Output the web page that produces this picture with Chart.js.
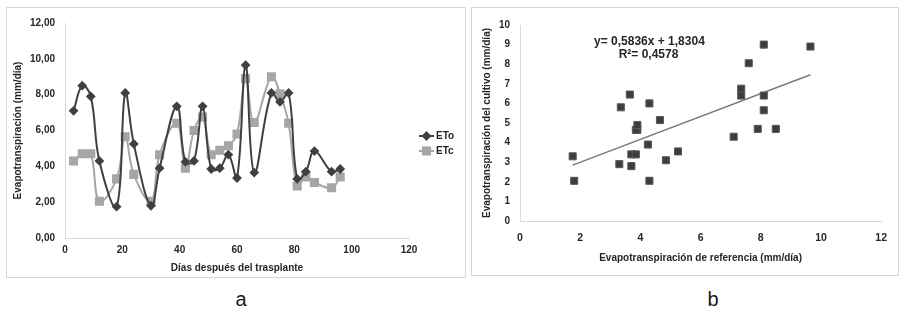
<!DOCTYPE html>
<html><head><meta charset="utf-8">
<script src="https://cdn.jsdelivr.net/npm/chart.js@4.4.0/dist/chart.umd.min.js"></script>
<style>
html,body{margin:0;padding:0;background:#fff;width:908px;height:315px;overflow:hidden;font-family:"Liberation Sans",Arial,sans-serif;}
.box{position:absolute;border:1px solid #d6d6d6;box-sizing:border-box;}
canvas{position:absolute;}
.lab{position:absolute;font-size:20px;line-height:20px;color:#1a1a1a;width:30px;text-align:center;}
</style></head><body>
<div class="box" style="left:6px;top:7px;width:460px;height:271px"></div>
<div class="box" style="left:471px;top:7px;width:428px;height:269px"></div>
<canvas id="c1" width="459" height="270" style="left:6px;top:7px"></canvas>
<canvas id="c2" width="427" height="268" style="left:471px;top:7px"></canvas>
<div class="lab" style="left:226px;top:289px">a</div>
<div class="lab" style="left:698px;top:289px">b</div>
<script>
// Days after transplant
const days = [3,6,9,12,18,21,24,30,33,39,42,45,48,51,54,57,60,63,66,72,75,78,81,84,87,93,96];
// Reference evapotranspiration ETo (mm/día)
const eto = [7.1,8.5,7.9,4.3,1.75,8.1,5.25,1.8,3.9,7.35,4.25,4.3,7.35,3.85,3.9,4.65,3.35,9.65,3.65,8.1,7.6,8.1,3.3,3.7,4.85,3.7,3.85];
// Crop evapotranspiration ETc (mm/día)
const etc = [4.3,4.7,4.7,2.05,3.3,5.65,3.55,2.05,4.65,6.4,3.9,6.0,6.75,4.65,4.9,5.15,5.8,8.9,6.45,9.0,8.05,6.4,2.9,3.4,3.1,2.8,3.4];
// Trendline as printed on the chart
const trendSlope = 0.5836;
const trendIntercept = 1.8304;
const trendR2 = 0.4578;
const eqText = "y= 0,5836x + 1,8304";
const r2Text = "R\u00b2= 0,4578";

const FONT = "'Liberation Sans', Arial, sans-serif";
const TXT = '#262626';
const AXIS = '#d9d9d9';

const comma2 = v => v.toFixed(2).replace('.', ',');

// Left chart legend plugin
const legendPlugin = {
  id: 'leftLegend',
  afterDraw(chart) {
    const ctx = chart.ctx;
    const x0 = 413, rows = [129, 144];
    chart.data.datasets.forEach((ds, i) => {
      const y = rows[i];
      ctx.save();
      ctx.strokeStyle = ds.borderColor;
      ctx.lineWidth = 2;
      ctx.beginPath(); ctx.moveTo(x0, y); ctx.lineTo(x0 + 15, y); ctx.stroke();
      Chart.helpers.drawPoint(ctx, {pointStyle: ds.pointStyle, radius: ds.pointRadius, borderWidth: 1}, x0 + 7.5, y);
      ctx.fillStyle = ds.borderColor;
      ctx.fill();
      ctx.fillStyle = TXT;
      ctx.font = "bold 10px " + FONT;
      ctx.textBaseline = 'middle';
      ctx.textAlign = 'left';
      ctx.fillText(ds.label, x0 + 17, y + 0.5);
      ctx.restore();
    });
  }
};

new Chart(document.getElementById('c1'), {
  type: 'line',
  data: {
    datasets: [
      { label: 'ETo', data: days.map((d, i) => ({x: d, y: eto[i]})),
        borderColor: '#404040', backgroundColor: '#404040', borderWidth: 2,
        pointStyle: 'rectRot', pointRadius: 3.5, pointHoverRadius: 3.5, tension: 0.4 },
      { label: 'ETc', data: days.map((d, i) => ({x: d, y: etc[i]})),
        borderColor: '#a6a6a6', backgroundColor: '#a6a6a6', borderWidth: 2,
        pointStyle: 'rect', pointRadius: 5, pointHoverRadius: 5, tension: 0.4 }
    ]
  },
  options: {
    responsive: false, animation: false,
    layout: { padding: { left: 0, top: 15, right: 56, bottom: 0 } },
    plugins: { legend: { display: false }, tooltip: { enabled: false } },
    scales: {
      x: {
        type: 'linear', min: 0, max: 120,
        ticks: { stepSize: 20, padding: 6, color: TXT, font: { family: FONT, size: 10, weight: 'bold' } },
        grid: { drawOnChartArea: false, drawTicks: false, color: AXIS },
        border: { color: AXIS, width: 1 },
        title: { display: true, text: 'Días después del trasplante', color: TXT,
                 font: { family: FONT, size: 10, weight: 'bold' }, padding: { top: 0, bottom: 3 } },
        afterFit: s => { s.height = 39; }
      },
      y: {
        min: 0, max: 12,
        ticks: { stepSize: 2, padding: 10, color: TXT, callback: v => comma2(v),
                 font: { family: FONT, size: 10, weight: 'bold' } },
        grid: { drawOnChartArea: false, drawTicks: false, color: AXIS },
        border: { color: AXIS, width: 1 },
        title: { display: true, text: 'Evapotranspiración (mm/día)', color: TXT,
                 font: { family: FONT, size: 10, weight: 'bold' }, padding: { top: 6, bottom: 0 } },
        afterFit: s => { s.width = 59; }
      }
    }
  },
  plugins: [legendPlugin]
});

// Scatter data built from the same series
const pairs = eto.map((v, i) => ({x: v, y: etc[i]}));
const xMinT = Math.min(...eto), xMaxT = Math.max(...eto);
const trendPts = [xMinT, xMaxT].map(x => ({x: x, y: trendSlope * x + trendIntercept}));

const eqPlugin = {
  id: 'eqText',
  afterDraw(chart) {
    const ctx = chart.ctx, sx = chart.scales.x, sy = chart.scales.y;
    ctx.save();
    ctx.fillStyle = TXT;
    ctx.font = "bold 12px " + FONT;
    ctx.textAlign = 'center'; ctx.textBaseline = 'middle';
    ctx.fillText(eqText, sx.getPixelForValue(4.3), sy.getPixelForValue(9.15));
    ctx.fillText(r2Text, sx.getPixelForValue(4.27), sy.getPixelForValue(8.5));
    ctx.restore();
  }
};

new Chart(document.getElementById('c2'), {
  type: 'scatter',
  data: {
    datasets: [
      { label: 'ETc', data: pairs, backgroundColor: '#3d3d3d', borderColor: '#5a5a5a', borderWidth: 1,
        pointStyle: 'rect', pointRadius: 5, pointHoverRadius: 5 },
      { type: 'line', label: 'trend', data: trendPts, borderColor: '#7a7a7a', borderWidth: 1.5,
        pointRadius: 0, fill: false, tension: 0 }
    ]
  },
  options: {
    responsive: false, animation: false,
    layout: { padding: { left: 0, top: 18, right: 15, bottom: 0 } },
    plugins: { legend: { display: false }, tooltip: { enabled: false } },
    scales: {
      x: {
        type: 'linear', min: 0, max: 12,
        ticks: { stepSize: 2, padding: 11, color: TXT, font: { family: FONT, size: 10.5, weight: 'bold' } },
        grid: { drawOnChartArea: false, drawTicks: false, color: AXIS },
        border: { color: AXIS, width: 1 },
        title: { display: true, text: 'Evapotranspiración de referencia (mm/día)', color: TXT,
                 font: { family: FONT, size: 10, weight: 'bold' }, padding: { top: 0, bottom: 11 } },
        afterFit: s => { s.height = 54; }
      },
      y: {
        min: 0, max: 10,
        ticks: { stepSize: 1, padding: 10, color: TXT, font: { family: FONT, size: 10, weight: 'bold' } },
        grid: { drawOnChartArea: false, drawTicks: false, color: AXIS },
        border: { color: AXIS, width: 1 },
        title: { display: true, text: 'Evapotranspiración del cultivo (mm/día)', color: TXT,
                 font: { family: FONT, size: 10, weight: 'bold' }, padding: { top: 10, bottom: 0 } },
        afterFit: s => { s.width = 49; }
      }
    }
  },
  plugins: [eqPlugin]
});
</script>
</body></html>
